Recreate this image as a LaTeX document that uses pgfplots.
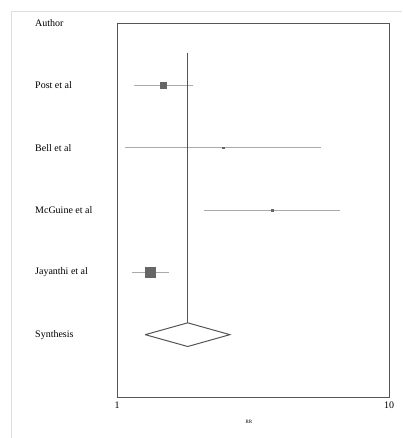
\documentclass[border=0pt]{standalone}
\usepackage{fontspec}
\setmainfont{Liberation Serif}
\usepackage{pgfplots}
\pgfplotsset{compat=1.18}
\definecolor{axgray}{HTML}{555555}
\definecolor{ci}{HTML}{AAAAAA}
\definecolor{pt}{HTML}{666666}
\begin{document}
\begin{tikzpicture}
\path[use as bounding box] (0,0) rectangle (402pt,438pt);
\draw[gray!25, line width=0.8pt] (11pt,0) -- (11pt,427pt) -- (402pt,427pt);
\begin{axis}[
  at={(117pt,41pt)}, anchor=south west,
  scale only axis, width=272pt, height=374pt,
  xmode=log, xmin=1, xmax=10, ymin=0, ymax=6,
  xtick={1,10}, xticklabels={1,10},
  ytick=\empty, xminorticks=false,
  axis line style={axgray, line width=0.8pt},
  major tick length=2pt,
  tick style={axgray},
  xtick pos=bottom,
  ticklabel style={font=\fontsize{10}{12}\selectfont},
  xticklabel style={yshift=-1pt},
  clip=false,
]
% confidence intervals
\addplot[ci, line width=0.8pt] coordinates {(1.155,5) (1.90,5)};
\addplot[ci, line width=0.8pt] coordinates {(1.07,4) (5.62,4)};
\addplot[ci, line width=0.8pt] coordinates {(2.09,3) (6.6,3)};
\addplot[ci, line width=0.8pt] coordinates {(1.135,2) (1.55,2)};
% point estimates
\addplot[only marks, mark=square*, mark size=2.8pt, pt] coordinates {(1.48,5)};
\addplot[only marks, mark=square*, mark size=0.9pt, pt] coordinates {(2.45,4)};
\addplot[only marks, mark=square*, mark size=1.1pt, pt] coordinates {(3.71,3)};
\addplot[only marks, mark=square*, mark size=5pt, pt] coordinates {(1.32,2)};
% synthesis
\addplot[axgray, line width=1pt] coordinates {(1.82,5.52) (1.82,1.19)};
\addplot[axgray, line width=1pt] coordinates {(1.27,1) (1.82,1.19) (2.60,1) (1.82,0.81) (1.27,1)};
% labels
\foreach \lab/\yy in {Author/6, Post et al/5, Bell et al/4, McGuine et al/3, Jayanthi et al/2, Synthesis/1} {
  \edef\temp{\noexpand\node[anchor=west, font=\noexpand\fontsize{10}{12}\noexpand\selectfont, inner sep=0pt] at (rel axis cs:-0.3015,\yy/6) {\lab};}
  \temp
}
\node[font=\fontsize{5}{6}\selectfont] at ([yshift=-25pt]rel axis cs:0.485,0) {RR};
\end{axis}
\end{tikzpicture}
\end{document}
